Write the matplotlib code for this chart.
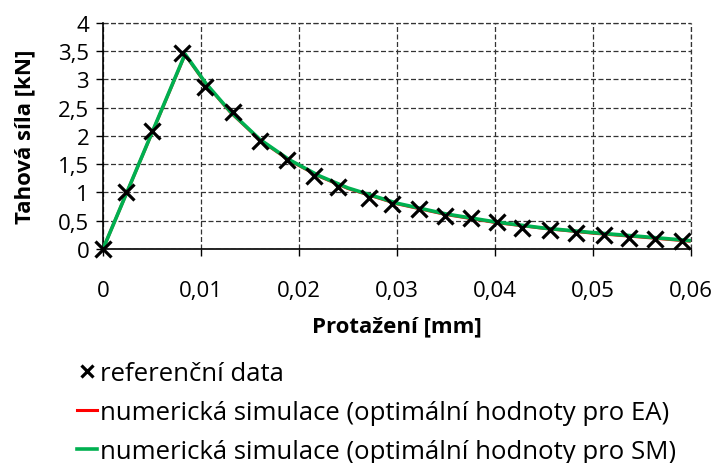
import matplotlib.pyplot as plt
from matplotlib.ticker import FuncFormatter, MultipleLocator

# referenční data (měřené body)
ref_x = [0.0, 0.00232, 0.00497, 0.00803, 0.0104, 0.0133, 0.0160, 0.0188, 0.0215, 0.0240,
         0.0271, 0.0295, 0.0322, 0.0349, 0.0376, 0.0402, 0.0428, 0.0456, 0.0483, 0.0511,
         0.0537, 0.0563, 0.0591]
ref_y = [0.0, 1.0, 2.08, 3.47, 2.86, 2.42, 1.91, 1.57, 1.29, 1.09,
         0.91, 0.79, 0.70, 0.59, 0.54, 0.47, 0.38, 0.34, 0.28, 0.24,
         0.19, 0.18, 0.14]

# numerická simulace
sim_x = [0.0, 0.00837, 0.0105, 0.013, 0.016, 0.019, 0.022, 0.025, 0.03, 0.035,
         0.04, 0.045, 0.05, 0.055, 0.0598]
ea_y = [0.0, 3.44, 2.92, 2.42, 1.93, 1.57, 1.29, 1.07, 0.80, 0.61,
        0.47, 0.365, 0.28, 0.21, 0.14]
sm_y = [0.0, 3.45, 2.93, 2.43, 1.94, 1.58, 1.30, 1.08, 0.81, 0.62,
        0.48, 0.37, 0.29, 0.22, 0.15]

plt.rcParams['font.family'] = ['Open Sans', 'DejaVu Sans']
FS = 16

fig = plt.figure(figsize=(7.16, 4.64), dpi=100)
ax = fig.add_axes([0.1439, 0.4612, 0.8212, 0.4871])

ax.plot(sim_x, ea_y, color='#ff0000', lw=2.2, label='numerická simulace (optimální hodnoty pro EA)', zorder=3)
ax.plot(sim_x, sm_y, color='#00b050', lw=2.6, label='numerická simulace (optimální hodnoty pro SM)', zorder=4)
ax.plot(ref_x, ref_y, ls='none', marker='x', ms=11, mew=2.3, color='black',
        label='referenční data', zorder=5, clip_on=False)

ax.set_xlim(0, 0.06)
ax.set_ylim(0, 4)
ax.xaxis.set_major_locator(MultipleLocator(0.01))
ax.yaxis.set_major_locator(MultipleLocator(0.5))

def comma(v, pos):
    s = ('%.2f' % v).rstrip('0').rstrip('.')
    return s.replace('.', ',')

ax.xaxis.set_major_formatter(FuncFormatter(comma))
ax.yaxis.set_major_formatter(FuncFormatter(comma))
ax.tick_params(direction='out', length=5, width=1, labelsize=FS)
ax.tick_params(axis='x', pad=17)
ax.tick_params(axis='y', pad=5)

ax.grid(True, ls=(0, (4, 2)), color='#333333', lw=0.9)
ax.spines['top'].set_visible(False)
ax.spines['right'].set_visible(False)
ax.spines['left'].set_linewidth(1.2)
ax.spines['bottom'].set_linewidth(1.2)
ax.axvline(0.06, ls=(0, (4, 2)), color='#333333', lw=0.9, clip_on=False)
ax.axhline(4, ls=(0, (4, 2)), color='#333333', lw=0.9, clip_on=False)

ax.set_xlabel('Protažení [mm]', fontsize=FS, fontweight='bold', labelpad=11)
ax.set_ylabel('Tahová síla [kN]', fontsize=FS, fontweight='bold', labelpad=16)

handles, labels = ax.get_legend_handles_labels()
order = [2, 0, 1]
fig.legend([handles[i] for i in order], [labels[i] for i in order],
           loc='upper left', bbox_to_anchor=(0.093, 0.243), frameon=False,
           fontsize=18.5, handlelength=0.77, handletextpad=0.12, labelspacing=0.56,
           borderaxespad=0, markerscale=0.85)

fig.savefig('out.png', dpi=100)
